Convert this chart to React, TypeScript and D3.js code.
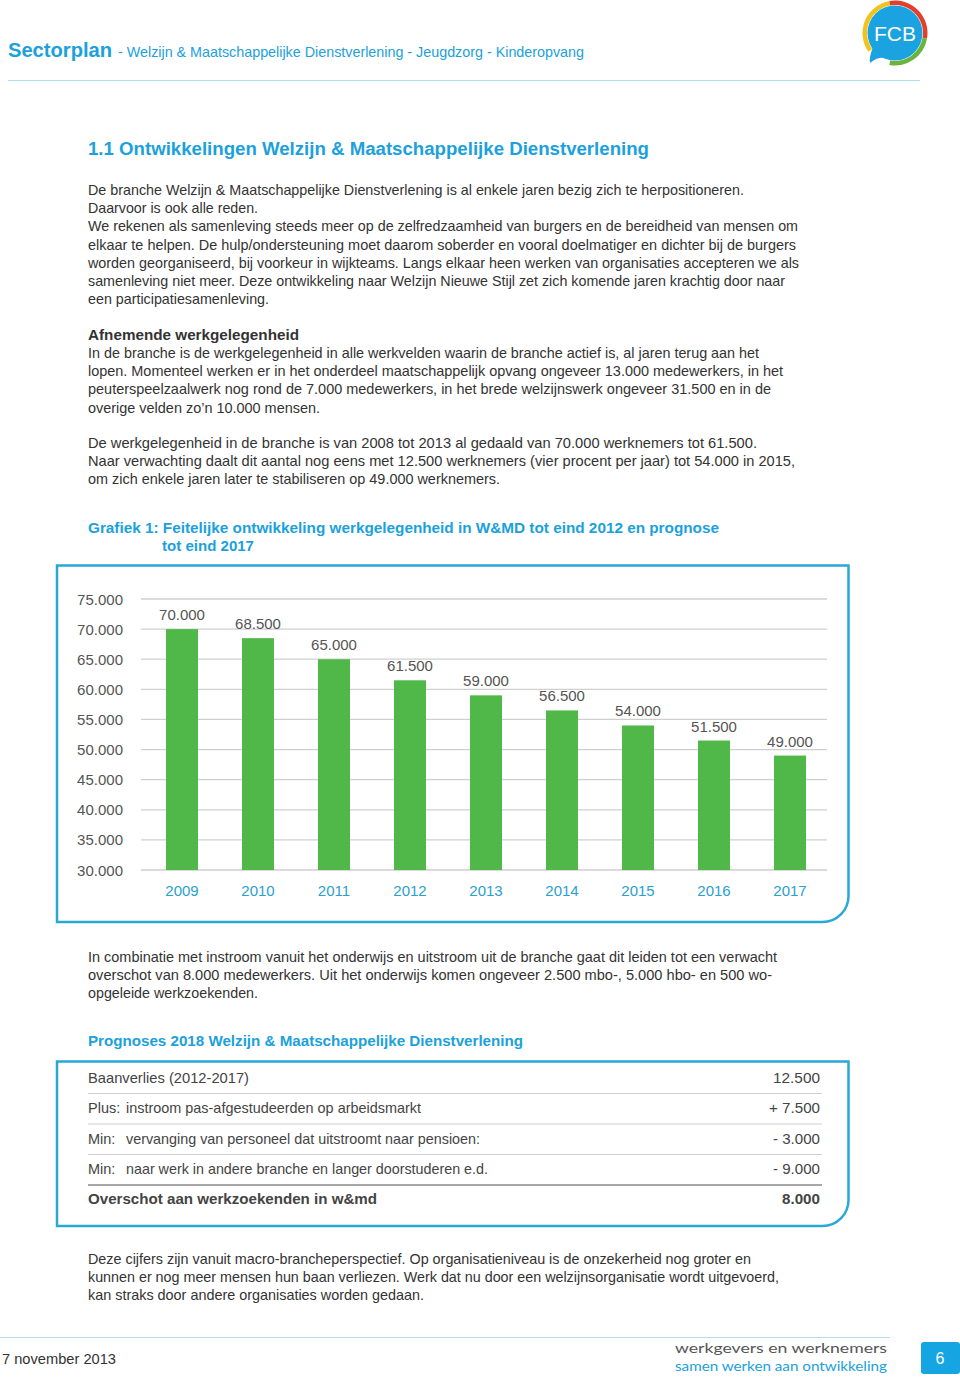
import React from "react";
import * as d3 from "d3";

const years = ["2009", "2010", "2011", "2012", "2013", "2014", "2015", "2016", "2017"];
const employment = [70000, 68500, 65000, 61500, 59000, 56500, 54000, 51500, 49000];
const yTicks = [30000, 35000, 40000, 45000, 50000, 55000, 60000, 65000, 70000, 75000];

const tableLabels = ["", "Plus:", "Min:", "Min:", ""];
const tableTexts = [
  "Baanverlies (2012-2017)",
  "instroom pas-afgestudeerden op arbeidsmarkt",
  "vervanging van personeel dat uitstroomt naar pensioen:",
  "naar werk in andere branche en langer doorstuderen e.d.",
  "Overschot aan werkzoekenden in w&md",
];
const tableTextEnds = [249, 421, 480, 488, 377];
const tableValues = ["12.500", "+ 7.500", "- 3.000", "- 9.000", "8.000"];
const tableValueStarts = [773, 769, 773, 773, 782];

const para1 = [
  ["De branche Welzijn & Maatschappelijke Dienstverlening is al enkele jaren bezig zich te herpositioneren.", 744],
  ["Daarvoor is ook alle reden.", 258],
  ["We rekenen als samenleving steeds meer op de zelfredzaamheid van burgers en de bereidheid van mensen om", 798],
  ["elkaar te helpen. De hulp/ondersteuning moet daarom soberder en vooral doelmatiger en dichter bij de burgers", 796],
  ["worden georganiseerd, bij voorkeur in wijkteams. Langs elkaar heen werken van organisaties accepteren we als", 799],
  ["samenleving niet meer. Deze ontwikkeling naar Welzijn Nieuwe Stijl zet zich komende jaren krachtig door naar", 785],
  ["een participatiesamenleving.", 269],
];
const para2 = [
  ["In de branche is de werkgelegenheid in alle werkvelden waarin de branche actief is, al jaren terug aan het", 759],
  ["lopen. Momenteel werken er in het onderdeel maatschappelijk opvang ongeveer 13.000 medewerkers, in het", 783],
  ["peuterspeelzaalwerk nog rond de 7.000 medewerkers, in het brede welzijnswerk ongeveer 31.500 en in de", 771],
  ["overige velden zo\u2019n 10.000 mensen.", 320],
];
const para3 = [
  ["De werkgelegenheid in de branche is van 2008 tot 2013 al gedaald van 70.000 werknemers tot 61.500.", 757],
  ["Naar verwachting daalt dit aantal nog eens met 12.500 werknemers (vier procent per jaar) tot 54.000 in 2015,", 795],
  ["om zich enkele jaren later te stabiliseren op 49.000 werknemers.", 500],
];
const para4 = [
  ["In combinatie met instroom vanuit het onderwijs en uitstroom uit de branche gaat dit leiden tot een verwacht", 777],
  ["overschot van 8.000 medewerkers. Uit het onderwijs komen ongeveer 2.500 mbo-, 5.000 hbo- en 500 wo-", 772],
  ["opgeleide werkzoekenden.", 258],
];
const para5 = [
  ["Deze cijfers zijn vanuit macro-brancheperspectief. Op organisatieniveau is de onzekerheid nog groter en", 751],
  ["kunnen er nog meer mensen hun baan verliezen. Werk dat nu door een welzijnsorganisatie wordt uitgevoerd,", 779],
  ["kan straks door andere organisaties worden gedaan.", 424],
];

const FONT = "'Liberation Sans', Arial, Helvetica, sans-serif";
const BLUE = "#1ba1db";
const TEXT = "#333333";

const nl = d3.formatLocale({ decimal: ",", thousands: ".", grouping: [3], currency: ["€", ""] });
const fmt = nl.format(",.0f");

function Line({ x, y, text, end, bold = false, fill = TEXT, size = 14.5 }: any) {
  return (
    <text
      x={x}
      y={y}
      fontFamily={FONT}
      fontSize={size}
      fontWeight={bold ? "bold" : "normal"}
      fill={fill}
      textLength={end ? end - x : undefined}
      lengthAdjust="spacingAndGlyphs"
    >
      {text}
    </text>
  );
}

function Para({ lines, y0 }: { lines: any[]; y0: number }) {
  return (
    <g>
      {lines.map((l, i) => (
        <Line key={i} x={88} y={y0 + i * 18.2} text={l[0]} end={l[1]} />
      ))}
    </g>
  );
}

function Logo() {
  const cx = 895, cy = 33;
  const ring = d3.arc<any>();
  const seg = (a0: number, a1: number) =>
    ring({ innerRadius: 28, outerRadius: 32.5, startAngle: (a0 * Math.PI) / 180, endAngle: (a1 * Math.PI) / 180 }) as string;
  return (
    <g transform={`translate(${cx},${cy})`}>
      <path d={seg(-125, -10)} fill="#f2c31c" />
      <path d={seg(-10, 100)} fill="#e2402c" />
      <path d={seg(100, 190)} fill="#6ab43e" />
      <circle r={27.5} fill="#1aa3e0" />
      <path d="M-22,14 Q-26,24 -25,30 Q-18,24 -10,25 Q0,28 8,26 Z" fill="#1aa3e0" />
      <text x={0} y={7.5} textAnchor="middle" fontFamily={FONT} fontSize={21} fill="#fff">FCB</text>
    </g>
  );
}

export default function App() {
  const x = d3.scaleBand<string>().domain(years).range([144, 828]).paddingInner(0.579).paddingOuter(0.2895);
  const y = d3.scaleLinear().domain([30000, 75000]).range([870, 599]);

  const boxPath = (x0: number, y0: number, x1: number, y1: number, r: number) => {
    const p = d3.path();
    p.moveTo(x0, y0);
    p.lineTo(x1, y0);
    p.lineTo(x1, y1 - r);
    p.arcTo(x1, y1, x1 - r, y1, r);
    p.lineTo(x0, y1);
    p.closePath();
    return p.toString();
  };

  const rowY = [1083, 1113, 1144, 1174, 1204];
  const sepY = [1093.5, 1124, 1154.5, 1185];

  return (
    <svg
      width={960}
      height={1379}
      viewBox="0 0 960 1379"
      style={{ position: "absolute", left: 0, top: 0, display: "block", background: "#fff" }}
    >
      <rect width={960} height={1379} fill="#fff" />

      {/* Header */}
      <text x={8} y={57} fontFamily={FONT} fontSize={20} fontWeight="bold" fill={BLUE} textLength={104} lengthAdjust="spacingAndGlyphs">
        Sectorplan
      </text>
      <Line x={118} y={57} text="- Welzijn & Maatschappelijke Dienstverlening - Jeugdzorg - Kinderopvang" end={584} fill={BLUE} size={14.5} />
      <line x1={8} x2={920} y1={80.5} y2={80.5} stroke="#b3dcec" strokeWidth={1.2} />
      <Logo />

      {/* Title */}
      <Line x={88} y={155} text="1.1 Ontwikkelingen Welzijn & Maatschappelijke Dienstverlening" end={649} bold fill={BLUE} size={18} />

      <Para lines={para1} y0={195} />
      <Line x={88} y={340} text="Afnemende werkgelegenheid" end={299} bold fill={TEXT} />
      <Para lines={para2} y0={358} />
      <Para lines={para3} y0={448} />

      {/* Chart title */}
      <Line x={88} y={533} text="Grafiek 1: Feitelijke ontwikkeling werkgelegenheid in W&MD tot eind 2012 en prognose" end={719} bold fill={BLUE} size={15} />
      <Line x={162} y={551} text="tot eind 2017" end={254} bold fill={BLUE} size={15} />

      {/* Chart box */}
      <path d={boxPath(57, 565.5, 848.5, 922, 26)} fill="none" stroke="#27a8d5" strokeWidth={2.5} />

      {/* Grid + y labels */}
      {yTicks.map((t) => (
        <g key={t}>
          <line x1={141} x2={827} y1={y(t)} y2={y(t)} stroke="#cfcfcf" strokeWidth={1.3} />
          <text x={123} y={y(t) + 5.5} textAnchor="end" fontFamily={FONT} fontSize={15} fill="#555">
            {fmt(t)}
          </text>
        </g>
      ))}

      {/* Bars */}
      {years.map((yr, i) => (
        <g key={yr}>
          <rect x={x(yr)} y={y(employment[i])} width={x.bandwidth()} height={y(30000) - y(employment[i])} fill="#50b848" />
          <text
            x={(x(yr) as number) + x.bandwidth() / 2}
            y={y(employment[i]) - 9}
            textAnchor="middle"
            fontFamily={FONT}
            fontSize={15}
            fill="#555"
          >
            {fmt(employment[i])}
          </text>
          <text
            x={(x(yr) as number) + x.bandwidth() / 2}
            y={896}
            textAnchor="middle"
            fontFamily={FONT}
            fontSize={15}
            fill="#2a9fd0"
          >
            {yr}
          </text>
        </g>
      ))}

      <Para lines={para4} y0={962} />

      {/* Table */}
      <Line x={88} y={1046} text="Prognoses 2018 Welzijn & Maatschappelijke Dienstverlening" end={523} bold fill={BLUE} size={15} />
      <path d={boxPath(57, 1061.5, 848.5, 1226, 26)} fill="none" stroke="#27a8d5" strokeWidth={2.5} />
      {sepY.map((s, i) => (
        <line key={i} x1={88} x2={822} y1={s} y2={s} stroke={i === 3 ? "#8a8a8a" : "#d0d0d0"} strokeWidth={i === 3 ? 1.6 : 1.2} />
      ))}
      {tableTexts.map((t, i) => {
        const tx = tableLabels[i] ? 126 : 88;
        const bold = i === 4;
        return (
          <g key={i}>
            {tableLabels[i] && (
              <text x={88} y={rowY[i]} fontFamily={FONT} fontSize={14.5} fill="#444">
                {tableLabels[i]}
              </text>
            )}
            <text
              x={tx}
              y={rowY[i]}
              fontFamily={FONT}
              fontSize={14.5}
              fontWeight={bold ? "bold" : "normal"}
              fill="#444"
              textLength={tableTextEnds[i] - tx}
              lengthAdjust="spacingAndGlyphs"
            >
              {t}
            </text>
            <text
              x={tableValueStarts[i]}
              y={rowY[i]}
              fontFamily={FONT}
              fontSize={14.5}
              fontWeight={bold ? "bold" : "normal"}
              fill="#444"
              textLength={820 - tableValueStarts[i]}
              lengthAdjust="spacingAndGlyphs"
            >
              {tableValues[i]}
            </text>
          </g>
        );
      })}

      <Para lines={para5} y0={1264} />

      {/* Footer */}
      <line x1={0} x2={890} y1={1337.5} y2={1337.5} stroke="#b3dcec" strokeWidth={1.2} />
      <Line x={2} y={1364} text="7 november 2013" end={116} fill={TEXT} size={14.5} />
      <text x={675} y={1353} fontFamily="Lato, sans-serif" fontSize={14} fill="#555" textLength={212} lengthAdjust="spacingAndGlyphs">
        werkgevers en werknemers
      </text>
      <text x={675} y={1371} fontFamily="Lato, sans-serif" fontSize={14} fill="#1ba1db" textLength={212} lengthAdjust="spacingAndGlyphs">
        samen werken aan ontwikkeling
      </text>
      <rect x={921} y={1342} width={39} height={32} rx={3} fill="#15a5e3" />
      <text x={940} y={1364} textAnchor="middle" fontFamily={FONT} fontSize={16} fill="#fff">
        6
      </text>
    </svg>
  );
}
